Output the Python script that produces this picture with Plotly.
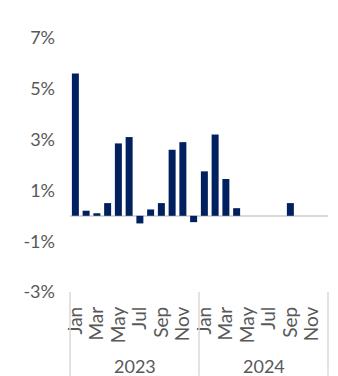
import plotly.graph_objects as go

years = ["2023", "2024"]
months = ["Jan", "Feb", "Mar", "Apr", "May", "Jun", "Jul", "Aug", "Sep", "Oct", "Nov", "Dec"]
values_2023 = [5.6, 0.2, 0.1, 0.5, 2.85, 3.1, -0.3, 0.25, 0.5, 2.6, 2.9, -0.25]
values_2024 = [1.75, 3.2, 1.45, 0.3, None, None, None, None, 0.5, None, None, None]
y_ticks = [-3, -1, 1, 3, 5, 7]
y_ticktext = ["-3%", "-1%", "1%", "3%", "5%", "7%"]

values = values_2023 + values_2024
n = len(values)
xs = list(range(n))
tickvals = [i for i in xs if i % 2 == 0]
ticktext = [months[i % 12] for i in tickvals]

gray = "#595959"
fig = go.Figure()
fig.add_trace(go.Bar(x=xs, y=values, marker=dict(color="#002060", line=dict(width=0)),
                     showlegend=False))

xmin, xmax = -0.5, n - 0.5
def px(v):
    return (v - xmin) / (xmax - xmin)

shapes = []
for b in [xmin, xmin + 12, xmax]:
    shapes.append(dict(type="line", xref="paper", yref="paper", x0=px(b), x1=px(b),
                       y0=0, y1=-0.33, line=dict(color="#d9d9d9", width=1.5)))
annotations = []
for k, yr in enumerate(years):
    annotations.append(dict(text=yr, xref="paper", yref="paper", x=px(k * 12 + 5.5), y=-0.29,
                            showarrow=False, yanchor="middle", xanchor="center",
                            font=dict(family="Lato", size=18, color=gray)))

fig.update_layout(
    width=338, height=376,
    margin=dict(l=70, r=10, t=38, b=84),
    paper_bgcolor="white", plot_bgcolor="white",
    bargap=0.35,
    font=dict(family="Lato", color=gray),
    shapes=shapes, annotations=annotations,
    xaxis=dict(range=[xmin, xmax], tickmode="array", tickvals=tickvals, ticktext=ticktext,
               tickangle=-90, tickfont=dict(size=19, color=gray), showgrid=False,
               zeroline=False, showline=False, ticks="", ticklabelstandoff=10),
    yaxis=dict(range=[-3, 7], tickmode="array", tickvals=y_ticks, ticktext=y_ticktext,
               tickfont=dict(size=18, color=gray), showgrid=False, zeroline=True,
               zerolinecolor="#d9d9d9", zerolinewidth=2, showline=False, ticks="",
               ticklabelstandoff=14),
)
fig.write_html("out.html")
